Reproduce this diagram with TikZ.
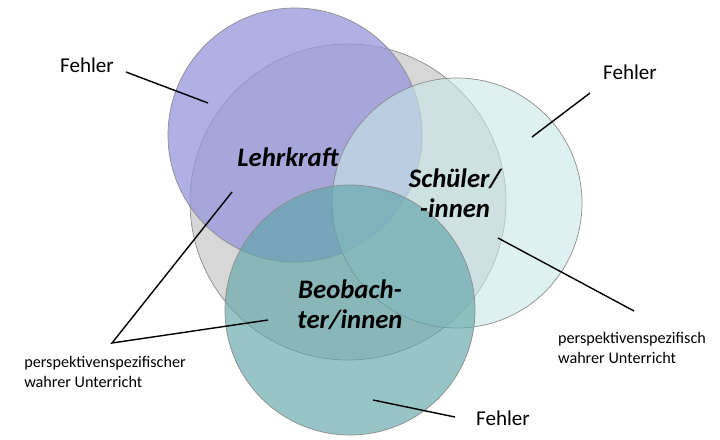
\documentclass[tikz,border=0pt]{standalone}
\usepackage{fontspec}
\setmainfont{Carlito}
\begin{document}
\begin{tikzpicture}[x=0.025cm,y=-0.025cm,
  circ/.style={draw=black!45,line width=0.5pt},
  lbl/.style={font=\fontsize{15}{17}\selectfont},
  small/.style={font=\fontsize{11.5}{14}\selectfont,align=left},
  big/.style={font=\fontsize{19}{21}\selectfont\bfseries\itshape,align=center},
  ln/.style={line width=1pt}]
\useasboundingbox (0,0) rectangle (720,439);
\fill[white] (0,0) rectangle (720,439);
\draw[circ,fill={rgb,255:red,215;green,215;blue,215}] (348,202) circle (158);
\draw[circ,fill={rgb,255:red,150;green,150;blue,220},fill opacity=0.75] (295,135) circle (127);
\draw[circ,fill={rgb,255:red,200;green,232;blue,232},fill opacity=0.6] (457,203) circle (125);
\draw[circ,fill={rgb,255:red,95;green,165;blue,170},fill opacity=0.65] (350,310) circle (125);
\node[big] (lk) at (288,157) {Lehrkraft};
\node[big] (su) at (455,193) {Schüler/\\-innen};
\node[big] (bo) at (350,305) {Beobach-\\ter/innen};
\node[lbl] (f1) at (87,65) {Fehler};
\node[lbl] (f2) at (630,72) {Fehler};
\node[lbl] (f3) at (503,418) {Fehler};
\node[small] (p1) at (105,372) {perspektivenspezifischer\\wahrer Unterricht};
\node[small] (p2) at (632,348) {perspektivenspezifisch\\wahrer Unterricht};
\coordinate (a1) at (208,103);
\coordinate (a2) at (532,137);
\coordinate (a3) at (373,400);
\coordinate (a4) at (232,192);
\coordinate (a5) at (268,320);
\coordinate (a6) at (498,238);
\coordinate (k) at (112,343);
\draw[ln] (126,72) -- (a1);
\draw[ln] (590,93) -- (a2);
\draw[ln] (455,417) -- (a3);
\draw[ln] (a4) -- (k) -- (a5);
\draw[ln] (a6) -- (634,311);
\end{tikzpicture}
\end{document}
